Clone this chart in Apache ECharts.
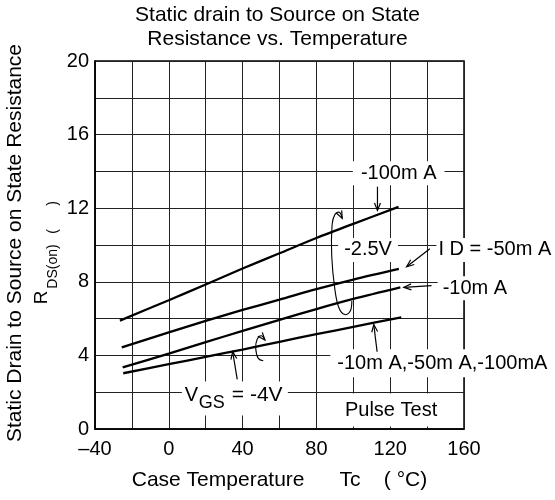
<!DOCTYPE html>
<html><head><meta charset="utf-8">
<script src="https://cdn.jsdelivr.net/npm/echarts/dist/echarts.min.js"></script>
<style>html,body{margin:0;padding:0;background:#fff}#c{width:555px;height:500px}</style>
</head><body><div id="c"></div>
<script>
// ---- data ----
const titleLines = ['Static drain to Source on State', 'Resistance vs. Temperature'];
const xLabelTicks = [-40, 0, 40, 80, 120, 160];
const yLabelTicks = [0, 4, 8, 12, 16, 20];
// VGS = -2.5V, ID = -100mA
const id100mA = [[-26.5,5.89],[0,7.0],[20,7.85],[40,8.72],[60,9.55],[80,10.38],[100,11.15],[124.5,12.07]];
// VGS = -2.5V, ID = -50mA
const id50mA = [[-25.5,4.44],[0,5.25],[20,5.88],[40,6.47],[60,7.03],[80,7.6],[100,8.12],[124.7,8.7]];
// VGS = -2.5V, ID = -10mA
const id10mA = [[-25,3.35],[0,4.1],[20,4.72],[40,5.33],[60,5.93],[80,6.52],[100,7.07],[125.5,7.7]];
// VGS = -4V, ID = -10/-50/-100mA
const vgs4V = [[-24.7,3.03],[0,3.52],[20,3.92],[40,4.32],[60,4.74],[80,5.15],[100,5.55],[126,6.07]];

const FONT = '"Liberation Sans", Arial, Helvetica, sans-serif';
const chart = echarts.init(document.getElementById('c'), null, {renderer: 'canvas'});

function curve(name, data) {
  return {name, type: 'line', data, symbol: 'none', smooth: 0.3, z: 20,
    lineStyle: {color: '#000', width: 2.3}, silent: true};
}

chart.setOption({
  animation: false,
  backgroundColor: '#fff',
  title: {text: titleLines.join('\n'), left: 'center', top: 3, padding: 0,
    textStyle: {fontSize: 21, fontWeight: 'normal', color: '#000', fontFamily: FONT, lineHeight: 24}},
  grid: {left: 95, right: 91, top: 61, bottom: 71, show: true, borderColor: '#000', borderWidth: 1.5,
    containLabel: false, outerBoundsMode: 'none'},
  xAxis: {type: 'value', min: -40, max: 160, interval: 20,
    axisLine: {show: true, onZero: false, lineStyle: {color: '#000', width: 1.5}},
    axisTick: {show: false},
    splitLine: {show: true, lineStyle: {color: '#222', width: 1}},
    axisLabel: {color: '#000', fontSize: 20, fontFamily: FONT, margin: 10,
      formatter: v => xLabelTicks.includes(v) ? (v < 0 ? '\u2013' + (-v) : String(v)) : ''},
    name: 'Case Temperature      Tc    ( \u00B0C)', nameLocation: 'middle', nameGap: 41,
    nameTextStyle: {color: '#000', fontSize: 21, fontFamily: FONT}},
  yAxis: {type: 'value', min: 0, max: 20, interval: 2,
    axisLine: {show: true, onZero: false, lineStyle: {color: '#000', width: 1.5}},
    axisTick: {show: false},
    splitLine: {show: true, lineStyle: {color: '#222', width: 1}},
    axisLabel: {color: '#000', fontSize: 20, fontFamily: FONT, margin: 6,
      formatter: v => yLabelTicks.includes(v) ? String(v) : ''}},
  series: [curve('-100mA', id100mA), curve('-50mA', id50mA), curve('-10mA', id10mA), curve('VGS=-4V', vgs4V)]
});

// ---- annotations (positions in data units, converted through the grid) ----
const P = d => chart.convertToPixel({gridIndex: 0}, d);
const font = s => s + 'px ' + FONT;
const g = [];

// y-axis title (layout in pixels)
g.push({type: 'text', x: 15.5, y: 243, rotation: Math.PI / 2,
  style: {text: 'Static Drain to Source on State Resistance', font: font(21), fill: '#000', align: 'center', verticalAlign: 'middle'}});
g.push({type: 'text', x: 42, y: 297.5, rotation: Math.PI / 2,
  style: {text: 'R', font: font(19), fill: '#000', align: 'center', verticalAlign: 'middle'}});
g.push({type: 'text', x: 53, y: 266.5, rotation: Math.PI / 2,
  style: {text: 'DS(on)', font: font(14), fill: '#000', align: 'center', verticalAlign: 'middle'}});
g.push({type: 'text', x: 53.5, y: 217.5, rotation: Math.PI / 2,
  style: {text: '(      )', font: font(14), fill: '#000', align: 'center', verticalAlign: 'middle'}});

const notes = [
  {t: '-100m A', at: [124.6, 13.9], pad: [2, 8, 2, 8]},
  {t: '-2.5V', at: [108, 9.73], pad: [2, 6, 2, 6]},
  {t: 'I D = -50m A', at: [176.7, 9.73], pad: [2, 2, 2, 2]},
  {t: '-10m A', at: [165.9, 7.65], pad: [2, 5, 2, 5]},
  {t: '-10m A,-50m A,-100mA', at: [148, 3.57], pad: [3, 6, 5, 7]},
  {t: 'Pulse Test', at: [120.2, 1.03], pad: [7, 24, 6, 25]}
];
notes.forEach(n => {
  const p = P(n.at);
  g.push({type: 'text', x: p[0], y: p[1], z: 10,
    style: {text: n.t, font: font(20), fill: '#000', align: 'center', verticalAlign: 'middle',
      backgroundColor: '#fff', padding: n.pad}});
});

// VGS = -4V label with subscript
(function () {
  const c = P([35.8, 1.76]);
  const x0 = c[0] - 50, y0 = c[1];
  g.push({type: 'rect', z: 10, shape: {x: x0 - 3, y: y0 - 15, width: 106, height: 34}, style: {fill: '#fff'}});
  g.push({type: 'text', z: 11, x: x0, y: y0 - 1, style: {text: 'V', font: font(20), fill: '#000', align: 'left', verticalAlign: 'middle'}});
  g.push({type: 'text', z: 11, x: x0 + 14, y: y0 + 6, style: {text: 'GS', font: font(18), fill: '#000', align: 'left', verticalAlign: 'middle'}});
  g.push({type: 'text', z: 11, x: x0 + 47, y: y0 - 1, style: {text: '= -4V', font: font(21), fill: '#000', align: 'left', verticalAlign: 'middle'}});
})();

function head(tip, from) {
  const a = Math.atan2(tip[1] - from[1], tip[0] - from[0]), L = 8, s = 0.38;
  return {type: 'polyline', z: 15, shape: {points: [
    [tip[0] - L * Math.cos(a - s), tip[1] - L * Math.sin(a - s)], tip,
    [tip[0] - L * Math.cos(a + s), tip[1] - L * Math.sin(a + s)]]},
    style: {stroke: '#000', lineWidth: 1.2, fill: null}};
}
const arrows = [
  [[113.1, 13.17], [113.1, 11.88]],
  [[141.5, 9.8], [128.9, 8.82]],
  [[142.4, 7.79], [127.4, 7.7]],
  [[112.9, 4.2], [111.1, 5.68]],
  [[37.1, 2.7], [34.6, 4.2]]
];
arrows.forEach(a => {
  const p1 = P(a[0]), p2 = P(a[1]);
  g.push({type: 'line', z: 15, shape: {x1: p1[0], y1: p1[1], x2: p2[0], y2: p2[1]}, style: {stroke: '#000', lineWidth: 1.2}});
  g.push(head(p2, p1));
});

const curls = [
  [[99.2, 6.96], [98.3, 6.4], [95.4, 6.22], [92.3, 6.56], [90.0, 7.6], [88.3, 9.4], [88.5, 11.1], [90.0, 11.65], [92.4, 11.78], [94, 11.45]],
  [[51.2, 3.71], [48.5, 3.84], [47.1, 4.39], [47.9, 4.88], [50.1, 5.07], [52.1, 4.84]]
];
curls.forEach(c => {
  const pts = c.map(P);
  g.push({type: 'polyline', z: 15, shape: {points: pts, smooth: 0.4}, style: {stroke: '#000', lineWidth: 1.1, fill: null}});
  g.push(head(pts[pts.length - 1], pts[pts.length - 2]));
});

chart.setOption({graphic: g});
</script>
</body></html>
